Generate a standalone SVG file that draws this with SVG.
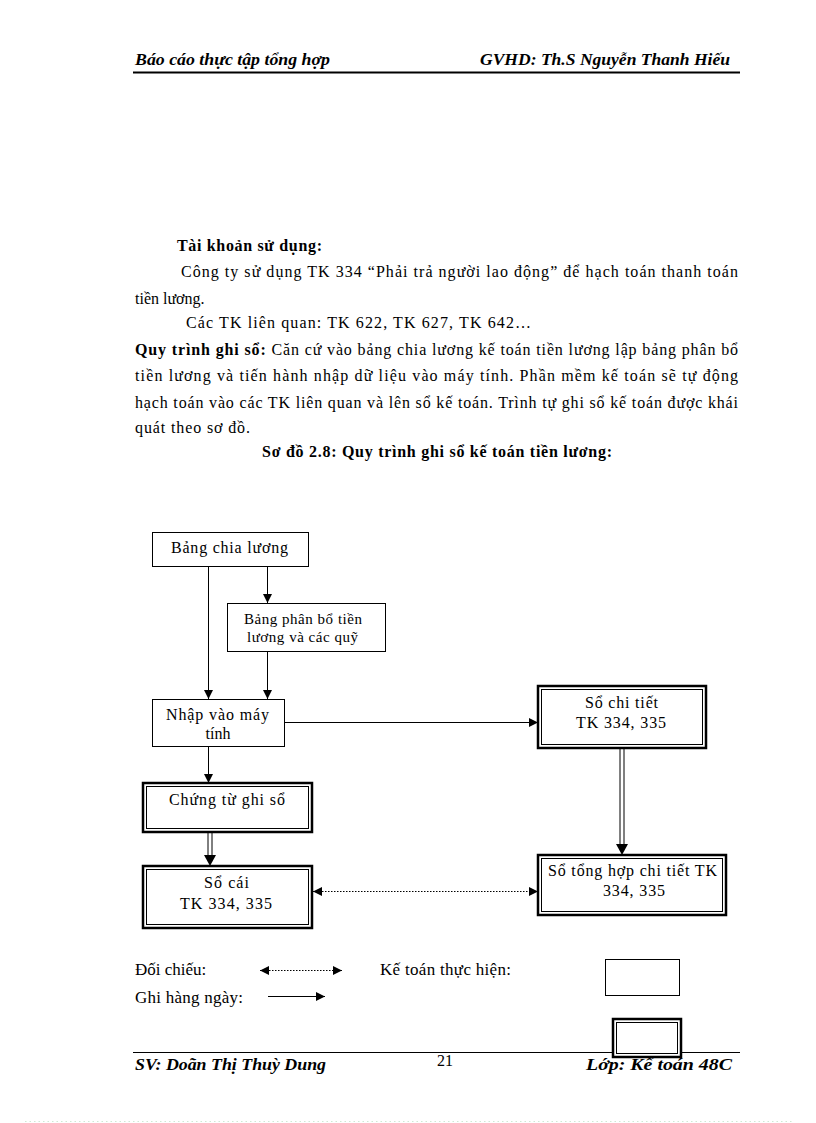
<svg xmlns="http://www.w3.org/2000/svg" width="816" height="1123" viewBox="0 0 816 1123">
<defs>
<style>
text{font-family:"Liberation Serif","Times New Roman",serif;fill:#000}
.hd{font-size:16px;font-weight:bold;font-style:italic}
.p{font-size:16px}
.lg{font-size:17px}
.b{font-weight:bold}
.n{font-size:16px;text-anchor:middle}
.ns{font-size:15px;text-anchor:middle}
.box{fill:#fff;stroke:#000;stroke-width:1}
.dbo{fill:#fff;stroke:#000;stroke-width:2.5}
.dbi{fill:none;stroke:#000;stroke-width:1}
.ln{stroke:#000;stroke-width:1;fill:none}
.dot{stroke:#000;stroke-width:1;fill:none;stroke-dasharray:1.5 1.5}
</style>
<marker id="arr" markerUnits="userSpaceOnUse" markerWidth="9" markerHeight="9" refX="8" refY="4" orient="auto-start-reverse" viewBox="0 0 8 8">
<path d="M0,0 L8,4 L0,8 z" fill="#000"/>
</marker>
</defs>
<rect width="816" height="1123" fill="#fff"/>

<g id="header">
<text class="hd" x="135" y="65" textLength="195" lengthAdjust="spacingAndGlyphs">Báo cáo thực tập tổng hợp</text>
<text class="hd" x="480" y="65" textLength="250" lengthAdjust="spacingAndGlyphs">GVHD: Th.S Nguyễn Thanh Hiếu</text>
<line x1="133" y1="72.5" x2="740" y2="72.5" stroke="#000" stroke-width="2"/>
</g>

<g id="body">
<text class="p b" x="177" y="251" textLength="145" lengthAdjust="spacing">Tài khoản sử dụng:</text>
<text class="p" x="181" y="277" textLength="557" lengthAdjust="spacing">Công ty sử dụng TK 334 “Phải trả người lao động” để hạch toán thanh toán</text>
<text class="p" x="135" y="304">tiền lương.</text>
<text class="p" x="186" y="328" textLength="345" lengthAdjust="spacing">Các TK liên quan: TK 622, TK 627, TK 642…</text>
<text class="p" x="135" y="355" textLength="603" lengthAdjust="spacing"><tspan class="b">Quy trình ghi sổ:</tspan> Căn cứ vào bảng chia lương kế toán tiền lương lập bảng phân bổ</text>
<text class="p" x="135" y="381" textLength="603" lengthAdjust="spacing">tiền lương và tiến hành nhập dữ liệu vào máy tính. Phần mềm kế toán sẽ tự động</text>
<text class="p" x="135" y="408" textLength="603" lengthAdjust="spacing">hạch toán vào các TK liên quan và lên sổ kế toán. Trình tự ghi sổ kế toán được khái</text>
<text class="p" x="135" y="433" textLength="115" lengthAdjust="spacing">quát theo sơ đồ.</text>
<text class="p b" x="262" y="457" textLength="350" lengthAdjust="spacing">Sơ đồ 2.8: Quy trình ghi sổ kế toán tiền lương:</text>
</g>

<g id="connectors">
<line class="ln" x1="208.5" y1="566" x2="208.5" y2="699" marker-end="url(#arr)"/>
<line class="ln" x1="267.5" y1="566" x2="267.5" y2="603" marker-end="url(#arr)"/>
<line class="ln" x1="267.5" y1="651" x2="267.5" y2="699" marker-end="url(#arr)"/>
<line class="ln" x1="284" y1="722.5" x2="538" y2="722.5" marker-end="url(#arr)"/>
<line class="ln" x1="208.5" y1="746" x2="208.5" y2="783" marker-end="url(#arr)"/>
<line class="ln" x1="208" y1="832" x2="208" y2="856"/>
<line class="ln" x1="212" y1="832" x2="212" y2="856"/>
<path d="M204,855 L216,855 L210,866 z" fill="#000"/>
<line class="ln" x1="620" y1="748" x2="620" y2="845"/>
<line class="ln" x1="624" y1="748" x2="624" y2="845"/>
<path d="M616,844 L628,844 L622,855 z" fill="#000"/>
<line class="dot" x1="313" y1="891.5" x2="538" y2="891.5" marker-start="url(#arr)" marker-end="url(#arr)"/>
</g>

<g id="n1">
<rect class="box" x="152.5" y="532.5" width="156" height="34"/>
<text class="n" x="229.5" y="553" textLength="117" lengthAdjust="spacing">Bảng chia lương</text>
</g>
<g id="n2">
<rect class="box" x="227.5" y="603.5" width="158" height="48"/>
<text class="ns" x="303" y="624" textLength="118" lengthAdjust="spacing">Bảng phân bổ tiền</text>
<text class="ns" x="302.5" y="642" textLength="111" lengthAdjust="spacing">lương và các quỹ</text>
</g>
<g id="n3">
<rect class="box" x="152.5" y="699.5" width="132" height="47"/>
<text class="n" x="217.5" y="720" textLength="103" lengthAdjust="spacing">Nhập vào máy</text>
<text class="n" x="218" y="739">tính</text>
</g>
<g id="n4">
<rect class="dbo" x="143" y="783" width="169" height="49"/>
<rect class="dbi" x="146.5" y="786.5" width="162" height="42"/>
<text class="n" x="227" y="805" textLength="116" lengthAdjust="spacing">Chứng từ ghi sổ</text>
</g>
<g id="n5">
<rect class="dbo" x="143" y="866" width="169" height="62"/>
<rect class="dbi" x="146.5" y="869.5" width="162" height="55"/>
<text class="n" x="226.5" y="888" textLength="45" lengthAdjust="spacing">Sổ cái</text>
<text class="n" x="226" y="909" textLength="92" lengthAdjust="spacing">TK 334, 335</text>
</g>
<g id="n6">
<rect class="dbo" x="538" y="686" width="168" height="62"/>
<rect class="dbi" x="541.5" y="689.5" width="161" height="55"/>
<text class="n" x="621.5" y="708" textLength="73" lengthAdjust="spacing">Sổ chi tiết</text>
<text class="n" x="621" y="728" textLength="90" lengthAdjust="spacing">TK 334, 335</text>
</g>
<g id="n7">
<rect class="dbo" x="538" y="855" width="188" height="60"/>
<rect class="dbi" x="541.5" y="858.5" width="181" height="53"/>
<text class="n" x="632.5" y="876" textLength="169" lengthAdjust="spacing">Sổ tổng hợp chi tiết TK</text>
<text class="n" x="634" y="896" textLength="62" lengthAdjust="spacing">334, 335</text>
</g>

<g id="legend">
<text class="lg" x="135" y="975">Đối chiếu:</text>
<line class="dot" x1="260" y1="970.5" x2="342" y2="970.5" marker-start="url(#arr)" marker-end="url(#arr)"/>
<text class="lg" x="380" y="975" textLength="131" lengthAdjust="spacing">Kế toán thực hiện:</text>
<rect class="box" x="605.5" y="959.5" width="74" height="36"/>
<text class="lg" x="135" y="1003" textLength="108" lengthAdjust="spacing">Ghi hàng ngày:</text>
<line class="ln" x1="268" y1="996.5" x2="325" y2="996.5" marker-end="url(#arr)"/>
</g>

<g id="footer">
<line x1="133" y1="1052.5" x2="740" y2="1052.5" stroke="#000" stroke-width="1"/>
<rect class="dbo" x="613" y="1019" width="68" height="38"/>
<rect class="dbi" x="616.5" y="1022.5" width="61" height="31"/>
<text class="hd" x="135" y="1070" textLength="191" lengthAdjust="spacingAndGlyphs">SV: Doãn Thị Thuỳ Dung</text>
<text class="p" x="437" y="1066">21</text>
<text class="hd" x="586" y="1070" textLength="146" lengthAdjust="spacingAndGlyphs">Lớp: Kế toán 48C</text>
<line x1="25" y1="1121.5" x2="792" y2="1121.5" stroke="#cfe8d4" stroke-width="1" stroke-dasharray="1.5 3"/>
</g>
</svg>
